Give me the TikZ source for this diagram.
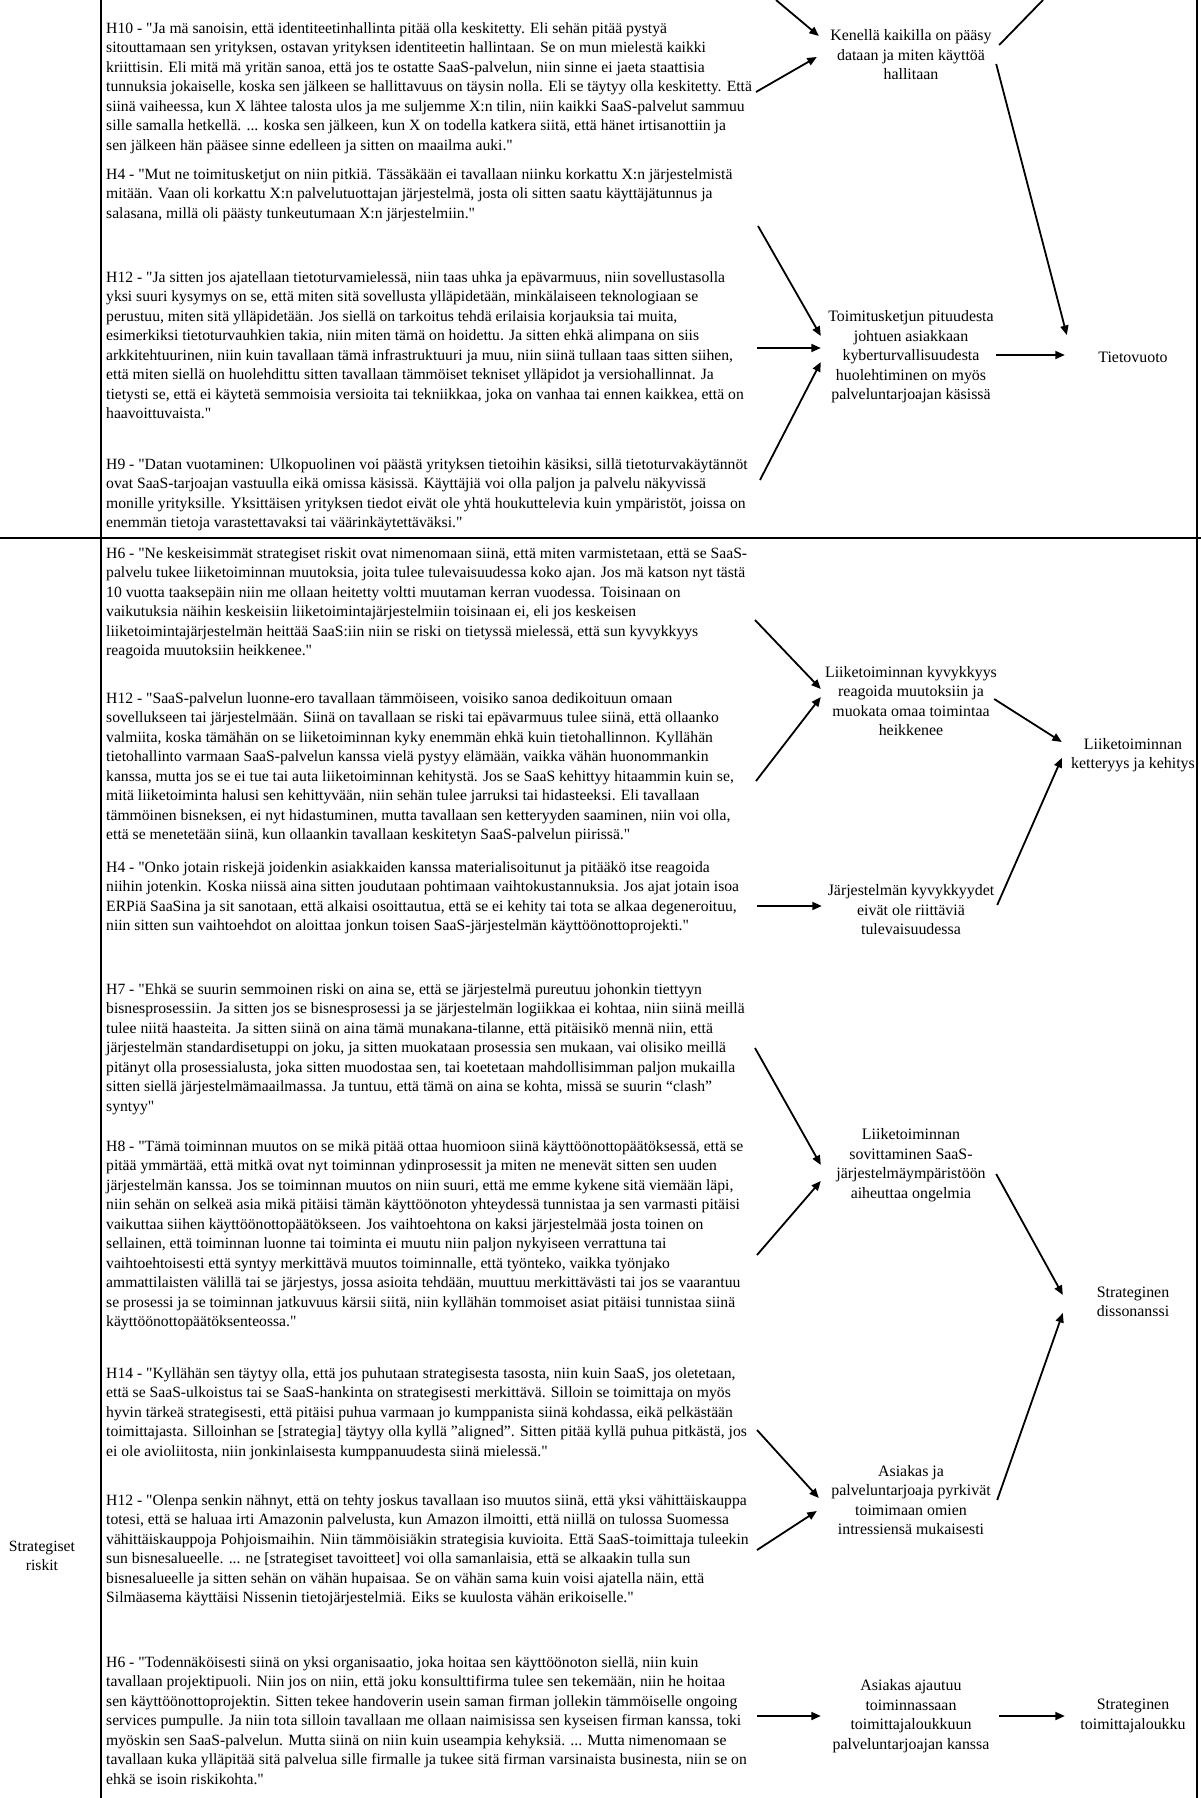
\documentclass[tikz,border=0pt]{standalone}
\usepackage{fontspec}
\setmainfont{Liberation Serif}[Ligatures=TeXOff]
\usetikzlibrary{arrows.meta,calc}
\begin{document}
\begin{tikzpicture}[x=1pt,y=-1pt,
  quote/.style={anchor=north west, align=left, inner sep=0pt, font=\fontsize{15.65}{19.5}\selectfont},
  cause/.style={align=center, inner sep=0pt, minimum width=180pt, font=\fontsize{15.9}{19.5}\selectfont},
  effect/.style={align=center, inner sep=0pt, minimum width=140pt, font=\fontsize{15.9}{19.5}\selectfont},
  arr/.style={line width=1.8pt, -{Triangle[length=9.5pt,width=8pt]}},
  plainline/.style={line width=1.8pt},
  frame/.style={line width=1.5pt}]
\useasboundingbox (0,0) rectangle (1201,1798);
% table rules
\draw[frame] (101,0) -- (101,1798);
\draw[frame] (1197,0) -- (1197,1798);
\draw[frame] (0,538) -- (1201,538);
\node[align=center, inner sep=0pt, font=\fontsize{15.65}{19.5}\selectfont] (riskit) at (42,1556) {Strategiset\\riskit};

% quotes
\node[quote] (q1) at (106,22) {H10 - "Ja mä sanoisin, että identiteetinhallinta pitää olla keskitetty. Eli sehän pitää pystyä\\
sitouttamaan sen yrityksen, ostavan yrityksen identiteetin hallintaan. Se on mun mielestä kaikki\\
kriittisin. Eli mitä mä yritän sanoa, että jos te ostatte SaaS-palvelun, niin sinne ei jaeta staattisia\\
tunnuksia jokaiselle, koska sen jälkeen se hallittavuus on täysin nolla. Eli se täytyy olla keskitetty. Että\\
siinä vaiheessa, kun X lähtee talosta ulos ja me suljemme X:n tilin, niin kaikki SaaS-palvelut sammuu\\
sille samalla hetkellä. ... koska sen jälkeen, kun X on todella katkera siitä, että hänet irtisanottiin ja\\
sen jälkeen hän pääsee sinne edelleen ja sitten on maailma auki."};
\node[quote] (q2) at (106,168) {H4 - "Mut ne toimitusketjut on niin pitkiä. Tässäkään ei tavallaan niinku korkattu X:n järjestelmistä\\
mitään. Vaan oli korkattu X:n palvelutuottajan järjestelmä, josta oli sitten saatu käyttäjätunnus ja\\
salasana, millä oli päästy tunkeutumaan X:n järjestelmiin."};
\node[quote] (q3) at (106,271) {H12 - "Ja sitten jos ajatellaan tietoturvamielessä, niin taas uhka ja epävarmuus, niin sovellustasolla\\
yksi suuri kysymys on se, että miten sitä sovellusta ylläpidetään, minkälaiseen teknologiaan se\\
perustuu, miten sitä ylläpidetään. Jos siellä on tarkoitus tehdä erilaisia korjauksia tai muita,\\
esimerkiksi tietoturvauhkien takia, niin miten tämä on hoidettu. Ja sitten ehkä alimpana on siis\\
arkkitehtuurinen, niin kuin tavallaan tämä infrastruktuuri ja muu, niin siinä tullaan taas sitten siihen,\\
että miten siellä on huolehdittu sitten tavallaan tämmöiset tekniset ylläpidot ja versiohallinnat. Ja\\
tietysti se, että ei käytetä semmoisia versioita tai tekniikkaa, joka on vanhaa tai ennen kaikkea, että on\\
haavoittuvaista."};
\node[quote] (q4) at (106,458) {H9 - "Datan vuotaminen: Ulkopuolinen voi päästä yrityksen tietoihin käsiksi, sillä tietoturvakäytännöt\\
ovat SaaS-tarjoajan vastuulla eikä omissa käsissä. Käyttäjiä voi olla paljon ja palvelu näkyvissä\\
monille yrityksille. Yksittäisen yrityksen tiedot eivät ole yhtä houkuttelevia kuin ympäristöt, joissa on\\
enemmän tietoja varastettavaksi tai väärinkäytettäväksi."};
\node[quote] (q5) at (106,547) {H6 - "Ne keskeisimmät strategiset riskit ovat nimenomaan siinä, että miten varmistetaan, että se SaaS-\\
palvelu tukee liiketoiminnan muutoksia, joita tulee tulevaisuudessa koko ajan. Jos mä katson nyt tästä\\
10 vuotta taaksepäin niin me ollaan heitetty voltti muutaman kerran vuodessa. Toisinaan on\\
vaikutuksia näihin keskeisiin liiketoimintajärjestelmiin toisinaan ei, eli jos keskeisen\\
liiketoimintajärjestelmän heittää SaaS:iin niin se riski on tietyssä mielessä, että sun kyvykkyys\\
reagoida muutoksiin heikkenee."};
\node[quote] (q6) at (106,692) {H12 - "SaaS-palvelun luonne-ero tavallaan tämmöiseen, voisiko sanoa dedikoituun omaan\\
sovellukseen tai järjestelmään. Siinä on tavallaan se riski tai epävarmuus tulee siinä, että ollaanko\\
valmiita, koska tämähän on se liiketoiminnan kyky enemmän ehkä kuin tietohallinnon. Kyllähän\\
tietohallinto varmaan SaaS-palvelun kanssa vielä pystyy elämään, vaikka vähän huonommankin\\
kanssa, mutta jos se ei tue tai auta liiketoiminnan kehitystä. Jos se SaaS kehittyy hitaammin kuin se,\\
mitä liiketoiminta halusi sen kehittyvään, niin sehän tulee jarruksi tai hidasteeksi. Eli tavallaan\\
tämmöinen bisneksen, ei nyt hidastuminen, mutta tavallaan sen ketteryyden saaminen, niin voi olla,\\
että se menetetään siinä, kun ollaankin tavallaan keskitetyn SaaS-palvelun piirissä."};
\node[quote] (q7) at (106,861) {H4 - "Onko jotain riskejä joidenkin asiakkaiden kanssa materialisoitunut ja pitääkö itse reagoida\\
niihin jotenkin. Koska niissä aina sitten joudutaan pohtimaan vaihtokustannuksia. Jos ajat jotain isoa\\
ERPiä SaaSina ja sit sanotaan, että alkaisi osoittautua, että se ei kehity tai tota se alkaa degeneroituu,\\
niin sitten sun vaihtoehdot on aloittaa jonkun toisen SaaS-järjestelmän käyttöönottoprojekti."};
\node[quote] (q8) at (106,983) {H7 - "Ehkä se suurin semmoinen riski on aina se, että se järjestelmä pureutuu johonkin tiettyyn\\
bisnesprosessiin. Ja sitten jos se bisnesprosessi ja se järjestelmän logiikkaa ei kohtaa, niin siinä meillä\\
tulee niitä haasteita. Ja sitten siinä on aina tämä munakana-tilanne, että pitäisikö mennä niin, että\\
järjestelmän standardisetuppi on joku, ja sitten muokataan prosessia sen mukaan, vai olisiko meillä\\
pitänyt olla prosessialusta, joka sitten muodostaa sen, tai koetetaan mahdollisimman paljon mukailla\\
sitten siellä järjestelmämaailmassa. Ja tuntuu, että tämä on aina se kohta, missä se suurin “clash”\\
syntyy"};
\node[quote] (q9) at (106,1140) {H8 - "Tämä toiminnan muutos on se mikä pitää ottaa huomioon siinä käyttöönottopäätöksessä, että se\\
pitää ymmärtää, että mitkä ovat nyt toiminnan ydinprosessit ja miten ne menevät sitten sen uuden\\
järjestelmän kanssa. Jos se toiminnan muutos on niin suuri, että me emme kykene sitä viemään läpi,\\
niin sehän on selkeä asia mikä pitäisi tämän käyttöönoton yhteydessä tunnistaa ja sen varmasti pitäisi\\
vaikuttaa siihen käyttöönottopäätökseen. Jos vaihtoehtona on kaksi järjestelmää josta toinen on\\
sellainen, että toiminnan luonne tai toiminta ei muutu niin paljon nykyiseen verrattuna tai\\
vaihtoehtoisesti että syntyy merkittävä muutos toiminnalle, että työnteko, vaikka työnjako\\
ammattilaisten välillä tai se järjestys, jossa asioita tehdään, muuttuu merkittävästi tai jos se vaarantuu\\
se prosessi ja se toiminnan jatkuvuus kärsii siitä, niin kyllähän tommoiset asiat pitäisi tunnistaa siinä\\
käyttöönottopäätöksenteossa."};
\node[quote] (q10) at (106,1367) {H14 - "Kyllähän sen täytyy olla, että jos puhutaan strategisesta tasosta, niin kuin SaaS, jos oletetaan,\\
että se SaaS-ulkoistus tai se SaaS-hankinta on strategisesti merkittävä. Silloin se toimittaja on myös\\
hyvin tärkeä strategisesti, että pitäisi puhua varmaan jo kumppanista siinä kohdassa, eikä pelkästään\\
toimittajasta. Silloinhan se [strategia] täytyy olla kyllä ”aligned”. Sitten pitää kyllä puhua pitkästä, jos\\
ei ole avioliitosta, niin jonkinlaisesta kumppanuudesta siinä mielessä."};
\node[quote] (q11) at (106,1494) {H12 - "Olenpa senkin nähnyt, että on tehty joskus tavallaan iso muutos siinä, että yksi vähittäiskauppa\\
totesi, että se haluaa irti Amazonin palvelusta, kun Amazon ilmoitti, että niillä on tulossa Suomessa\\
vähittäiskauppoja Pohjoismaihin. Niin tämmöisiäkin strategisia kuvioita. Että SaaS-toimittaja tuleekin\\
sun bisnesalueelle. ... ne [strategiset tavoitteet] voi olla samanlaisia, että se alkaakin tulla sun\\
bisnesalueelle ja sitten sehän on vähän hupaisaa. Se on vähän sama kuin voisi ajatella näin, että\\
Silmäasema käyttäisi Nissenin tietojärjestelmiä. Eiks se kuulosta vähän erikoiselle."};
\node[quote] (q12) at (106,1656) {H6 - "Todennäköisesti siinä on yksi organisaatio, joka hoitaa sen käyttöönoton siellä, niin kuin\\
tavallaan projektipuoli. Niin jos on niin, että joku konsulttifirma tulee sen tekemään, niin he hoitaa\\
sen käyttöönottoprojektin. Sitten tekee handoverin usein saman firman jollekin tämmöiselle ongoing\\
services pumpulle. Ja niin tota silloin tavallaan me ollaan naimisissa sen kyseisen firman kanssa, toki\\
myöskin sen SaaS-palvelun. Mutta siinä on niin kuin useampia kehyksiä. ... Mutta nimenomaan se\\
tavallaan kuka ylläpitää sitä palvelua sille firmalle ja tukee sitä firman varsinaista businesta, niin se on\\
ehkä se isoin riskikohta."};

% cause and effect nodes
\node[cause] (ken) at (911,55) {Kenellä kaikilla on pääsy\\dataan ja miten käyttöä\\hallitaan};
\node[cause] (toim) at (911,357) {Toimitusketjun pituudesta\\johtuen asiakkaan\\kyberturvallisuudesta\\huolehtiminen on myös\\palveluntarjoajan käsissä};
\node[effect] (tiet) at (1133,357) {Tietovuoto};
\node[cause] (lk) at (911,701) {Liiketoiminnan kyvykkyys\\reagoida muutoksiin ja\\muokata omaa toimintaa\\heikkenee};
\node[effect] (kk) at (1133,755) {Liiketoiminnan\\ketteryys ja kehitys};
\node[cause] (jk) at (911,910) {Järjestelmän kyvykkyydet\\eivät ole riittäviä\\tulevaisuudessa};
\node[cause] (ls) at (911,1165) {Liiketoiminnan\\sovittaminen SaaS-\\järjestelmäympäristöön\\aiheuttaa ongelmia};
\node[effect] (sd) at (1133,1302) {Strateginen\\dissonanssi};
\node[cause] (ap) at (911,1500) {Asiakas ja\\palveluntarjoaja pyrkivät\\toimimaan omien\\intressiensä mukaisesti};
\node[cause] (aa) at (911,1716) {Asiakas ajautuu\\toiminnassaan\\toimittajaloukkuun\\palveluntarjoajan kanssa};
\node[effect] (st) at (1133,1716) {Strateginen\\toimittajaloukku};

% free ends of connectors
\coordinate (s1) at (776,0);
\coordinate (s2) at (756,92);
\coordinate (t3) at (1043,0);
\coordinate (s5) at (758,226);
\coordinate (s6) at (757,348);
\coordinate (s7) at (760,480);
\coordinate (b1) at (755,620);
\coordinate (b2) at (756,781);
\coordinate (b5) at (757,906);
\coordinate (b6) at (755,1048);
\coordinate (b7) at (757,1255);
\coordinate (b10) at (757,1430);
\coordinate (b11) at (757,1550);
\coordinate (b12) at (757,1716);

% connectors, upper part
\draw[arr] (s1) -- ($(ken.west)+(-2,-19)$);
\draw[arr] (s2) -- ($(ken.west)+(-4,2)$);
\draw[plainline] ($(ken.east)+(-2,-10)$) -- (t3);
\draw[arr] ($(ken.east)+(-5,9)$) -- ($(tiet.west)+(4,-22)$);
\draw[arr] (s5) -- ($(toim.west)+(0,-21)$);
\draw[arr] (s6) -- ($(toim.west)+(0,-9)$);
\draw[arr] (s7) -- ($(toim.west)+(0,5)$);
\draw[arr] ($(toim.east)+(-5,-2)$) -- ($(tiet.west)+(2,-2)$);

% connectors, lower part
\draw[arr] (b1) -- ($(lk.west)+(0,-12)$);
\draw[arr] (b2) -- ($(lk.west)+(0,-4)$);
\draw[arr] ($(lk.east)+(-7,-2)$) -- ($(kk.west)+(-1,-13)$);
\draw[arr] ($(jk.east)+(-4,-5)$) -- ($(kk.west)+(-1,3)$);
\draw[arr] (b5) -- ($(jk.west)+(1,-4)$);
\draw[arr] (b6) -- ($(ls.west)+(0,0)$);
\draw[arr] (b7) -- ($(ls.west)+(0,16)$);
\draw[arr] ($(ls.east)+(-5,9)$) -- ($(sd.west)+(0,-7)$);
\draw[arr] ($(ap.east)+(-4,0)$) -- ($(sd.west)+(0,11)$);
\draw[arr] (b10) -- ($(ap.west)+(-2,-2)$);
\draw[arr] (b11) -- ($(ap.west)+(-4,11)$);
\draw[arr] (b12) -- ($(aa.west)+(0,0)$);
\draw[arr] ($(aa.east)+(-2,0)$) -- ($(st.west)+(2,0)$);
\end{tikzpicture}
\end{document}
